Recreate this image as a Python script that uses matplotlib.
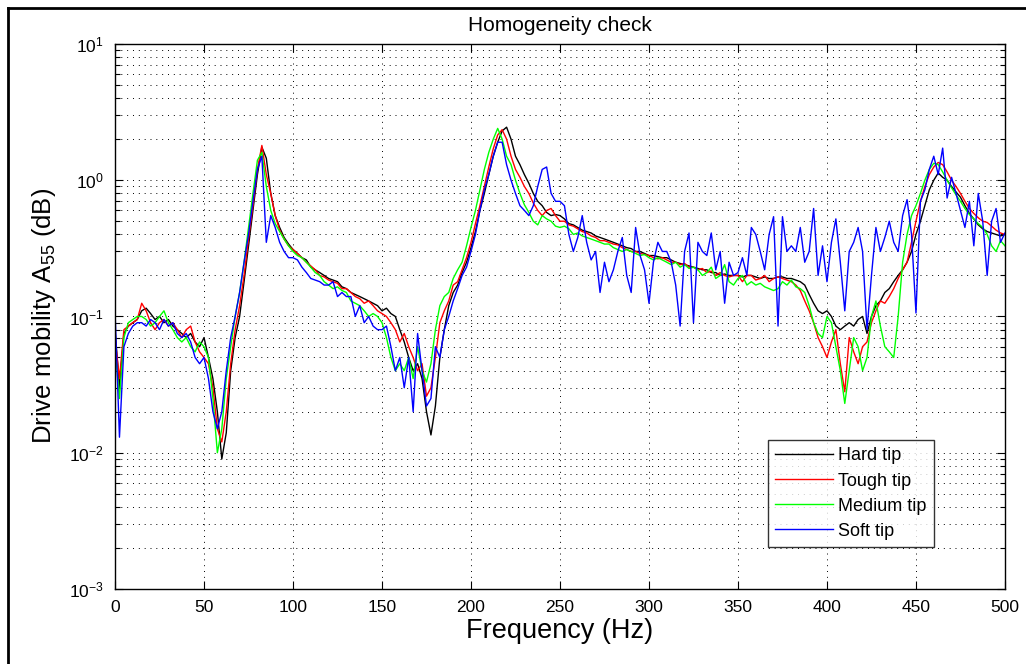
import numpy as np
import matplotlib
matplotlib.use('Agg')
import matplotlib.pyplot as plt
from matplotlib.lines import Line2D
from matplotlib.ticker import LogLocator, NullFormatter, FixedLocator

plt.rcParams['font.family'] = ['Liberation Sans', 'DejaVu Sans']
plt.rcParams['mathtext.default'] = 'regular'

freq = np.arange(0, 500.1, 2.5)

hard = [
    0.08, 0.03, 0.075, 0.085, 0.09, 0.095, 0.11, 0.115, 0.105, 0.095,
    0.1, 0.09, 0.095, 0.085, 0.08, 0.075, 0.07, 0.075, 0.065, 0.06,
    0.07, 0.05, 0.035, 0.02, 0.009, 0.014, 0.04, 0.07, 0.1, 0.18,
    0.33, 0.6, 1.1, 1.75, 1.45, 0.8, 0.55, 0.45, 0.38, 0.34,
    0.31, 0.29, 0.27, 0.26, 0.23, 0.22, 0.21, 0.2, 0.19, 0.185,
    0.18, 0.165, 0.16, 0.15, 0.145, 0.14, 0.135, 0.13, 0.125, 0.12,
    0.11, 0.115, 0.105, 0.1, 0.08, 0.065, 0.05, 0.04, 0.045, 0.035,
    0.02, 0.0135, 0.022, 0.05, 0.08, 0.12, 0.15, 0.17, 0.21, 0.25,
    0.32, 0.42, 0.6, 0.8, 1.1, 1.5, 1.9, 2.3, 2.45, 2.0,
    1.5, 1.3, 1.1, 0.95, 0.8, 0.7, 0.65, 0.58, 0.55, 0.56,
    0.55, 0.52, 0.48, 0.47, 0.45, 0.43, 0.42, 0.41, 0.39, 0.38,
    0.37, 0.36, 0.35, 0.34, 0.33, 0.32, 0.315, 0.3, 0.3, 0.29,
    0.28, 0.28, 0.275, 0.27, 0.27, 0.26, 0.25, 0.245, 0.24, 0.235,
    0.23, 0.225, 0.22, 0.22, 0.21, 0.21, 0.2, 0.205, 0.2, 0.2,
    0.2, 0.195, 0.2, 0.2, 0.195, 0.19, 0.195, 0.19, 0.19, 0.195,
    0.195, 0.19, 0.19, 0.185, 0.18, 0.17, 0.145, 0.125, 0.11, 0.105,
    0.11, 0.1, 0.085, 0.08, 0.085, 0.09, 0.085, 0.095, 0.1, 0.075,
    0.1, 0.12, 0.13, 0.15, 0.16, 0.18, 0.2, 0.22, 0.25, 0.3,
    0.4, 0.5, 0.65, 0.85, 1.0, 1.13, 1.05, 1.0, 0.9, 0.82,
    0.75, 0.65, 0.57, 0.52, 0.47, 0.44, 0.42, 0.41, 0.4, 0.39,
    0.4,
]

tough = [
    0.07, 0.035, 0.08, 0.085, 0.09, 0.095, 0.125, 0.11, 0.09, 0.08,
    0.09, 0.095, 0.085, 0.09, 0.08, 0.07, 0.08, 0.085, 0.065, 0.055,
    0.05, 0.045, 0.03, 0.015, 0.012, 0.02, 0.045, 0.08, 0.12, 0.2,
    0.37, 0.65, 1.2, 1.8, 1.1, 0.8, 0.55, 0.43, 0.37, 0.33,
    0.31, 0.29, 0.27, 0.25, 0.235, 0.22, 0.2, 0.195, 0.185, 0.18,
    0.175, 0.16, 0.16, 0.15, 0.14, 0.135, 0.125, 0.13, 0.12, 0.11,
    0.105, 0.1, 0.09, 0.08, 0.065, 0.075, 0.06, 0.05, 0.04, 0.045,
    0.026, 0.03, 0.05, 0.09, 0.11, 0.13, 0.17, 0.18, 0.22, 0.27,
    0.35, 0.48, 0.65, 0.9, 1.25, 1.7, 2.15, 2.35, 2.0, 1.5,
    1.2, 1.05, 0.9, 0.8, 0.68, 0.6, 0.55, 0.6, 0.62, 0.55,
    0.5, 0.5, 0.47, 0.46, 0.44, 0.42, 0.41, 0.39, 0.38, 0.36,
    0.36, 0.35, 0.34, 0.335, 0.32, 0.31, 0.3, 0.3, 0.29, 0.285,
    0.28, 0.27, 0.265, 0.27, 0.26, 0.25, 0.25, 0.24, 0.245, 0.23,
    0.23, 0.22, 0.225, 0.21, 0.215, 0.2, 0.21, 0.2, 0.195, 0.2,
    0.2, 0.18, 0.2, 0.2, 0.185, 0.19, 0.2, 0.18, 0.19, 0.195,
    0.19, 0.185, 0.18, 0.17, 0.155, 0.13, 0.11, 0.09, 0.07, 0.06,
    0.05, 0.065, 0.08, 0.045, 0.028, 0.07, 0.055, 0.045, 0.06, 0.065,
    0.09, 0.11, 0.13, 0.125, 0.14, 0.16, 0.19, 0.22, 0.25, 0.35,
    0.5, 0.7, 0.9, 1.1, 1.25, 1.35, 1.3, 1.15, 1.0, 0.9,
    0.8, 0.7, 0.62, 0.57, 0.53, 0.5, 0.49, 0.46, 0.43, 0.41,
    0.4,
]

medium = [
    0.06, 0.025, 0.07, 0.09, 0.095, 0.1, 0.1, 0.095, 0.085, 0.09,
    0.1, 0.11, 0.09, 0.08, 0.07, 0.065, 0.07, 0.06, 0.055, 0.065,
    0.06, 0.05, 0.025, 0.01, 0.015, 0.035, 0.06, 0.1, 0.15, 0.25,
    0.45, 0.8, 1.4, 1.6, 0.9, 0.6, 0.48, 0.42, 0.37, 0.33,
    0.3, 0.28, 0.27, 0.25, 0.23, 0.21, 0.2, 0.18, 0.17, 0.16,
    0.165, 0.155, 0.15, 0.13, 0.125, 0.12, 0.11, 0.1, 0.105, 0.1,
    0.09, 0.07, 0.05, 0.04, 0.045, 0.04, 0.05, 0.035, 0.06, 0.04,
    0.033, 0.045, 0.08, 0.12, 0.14, 0.15, 0.19, 0.22, 0.25, 0.33,
    0.45, 0.6, 0.85, 1.2, 1.6, 2.0, 2.4, 2.0, 1.5, 1.3,
    1.0, 0.8, 0.66, 0.58, 0.5, 0.47, 0.55, 0.52, 0.5, 0.46,
    0.45, 0.46, 0.44, 0.4, 0.41, 0.39, 0.38, 0.37, 0.36, 0.35,
    0.34, 0.34, 0.32, 0.31, 0.3, 0.31, 0.3, 0.29, 0.28, 0.285,
    0.27, 0.26, 0.27, 0.26, 0.25, 0.24, 0.25, 0.23, 0.24, 0.225,
    0.23, 0.22, 0.2, 0.21, 0.23, 0.19, 0.2, 0.24, 0.18, 0.17,
    0.19, 0.2, 0.17, 0.18, 0.17, 0.175, 0.165, 0.16, 0.155, 0.16,
    0.18, 0.17, 0.185, 0.165, 0.16, 0.15, 0.12, 0.09, 0.075, 0.07,
    0.1, 0.09, 0.06, 0.04, 0.023, 0.04, 0.07, 0.06, 0.04, 0.05,
    0.1, 0.13, 0.085, 0.06, 0.055, 0.05, 0.1, 0.25, 0.4, 0.55,
    0.65, 0.8, 1.0, 1.2, 1.33, 1.3, 1.15, 1.0, 0.88, 0.78,
    0.7, 0.62, 0.56, 0.52, 0.48, 0.45, 0.4, 0.33, 0.3, 0.36,
    0.33,
]

soft = [
    0.11, 0.013, 0.06, 0.075, 0.085, 0.09, 0.09, 0.085, 0.095, 0.09,
    0.08, 0.095, 0.085, 0.09, 0.075, 0.07, 0.075, 0.065, 0.05, 0.045,
    0.05, 0.035, 0.02, 0.015, 0.02, 0.04, 0.07, 0.1, 0.15, 0.25,
    0.4, 0.7, 1.2, 1.5, 0.35, 0.55, 0.45, 0.35, 0.3, 0.27,
    0.27, 0.26, 0.23, 0.21, 0.19, 0.185, 0.18, 0.17, 0.17, 0.18,
    0.14, 0.15, 0.14, 0.14, 0.1, 0.12, 0.09, 0.1, 0.085, 0.08,
    0.08, 0.085, 0.06, 0.04, 0.05, 0.03, 0.05, 0.02, 0.075, 0.04,
    0.022, 0.025, 0.06, 0.05, 0.08, 0.1, 0.13, 0.16, 0.2, 0.23,
    0.3, 0.4, 0.6, 0.85, 1.1, 1.5, 1.9, 1.9, 1.3, 1.0,
    0.8, 0.65, 0.6, 0.55, 0.65, 0.9, 1.2, 1.25, 0.8, 0.7,
    0.7, 0.65, 0.4, 0.3, 0.38, 0.55, 0.35, 0.26, 0.3, 0.15,
    0.25, 0.18, 0.22, 0.3, 0.38, 0.2, 0.15, 0.45, 0.28, 0.22,
    0.125, 0.25, 0.35, 0.3, 0.3, 0.25, 0.17, 0.085, 0.3, 0.41,
    0.09, 0.35, 0.3, 0.28, 0.41, 0.22, 0.3, 0.125, 0.25, 0.2,
    0.21, 0.27, 0.2, 0.45, 0.4, 0.3, 0.22, 0.4, 0.54, 0.085,
    0.54, 0.3, 0.33, 0.3, 0.45, 0.25, 0.3, 0.62, 0.2, 0.33,
    0.18, 0.35, 0.52, 0.25, 0.11, 0.3, 0.35, 0.45, 0.3, 0.08,
    0.2, 0.45, 0.3, 0.38, 0.5, 0.35, 0.3, 0.55, 0.72, 0.4,
    0.106, 0.7, 0.85, 1.2, 1.5, 1.1, 1.72, 0.74, 1.05, 0.8,
    0.6, 0.45, 0.7, 0.33, 0.8, 0.5, 0.2, 0.5, 0.62, 0.35,
    0.41,
]

labels = ['Hard tip', 'Tough tip', 'Medium tip', 'Soft tip']
colors = ['#000000', '#ff0000', '#00ff00', '#0000ff']

fig = plt.figure(figsize=(10.26, 6.64), dpi=100)
ax = fig.add_axes([0.1121, 0.1130, 0.8674, 0.8208])

for series, lab, col in zip([hard, tough, medium, soft], labels, colors):
    ax.semilogy(freq, series, color=col, lw=1.0, label=lab)

ax.set_xlim(0, 500)
ax.set_ylim(1e-3, 1e1)
ax.set_xticks(np.arange(0, 501, 50))
ax.yaxis.set_major_locator(FixedLocator([1e-3, 1e-2, 1e-1, 1e0, 1e1]))
ax.set_yticklabels([r'$10^{-3}$', r'$10^{-2}$', r'$10^{-1}$', r'$10^{0}$', r'$10^{1}$'])
ax.yaxis.set_minor_locator(LogLocator(base=10, subs=np.arange(2, 10), numticks=20))
ax.yaxis.set_minor_formatter(NullFormatter())

ax.tick_params(which='both', direction='in', top=True, right=True, labelsize=12.5, colors='black')
ax.tick_params(which='major', length=6, width=0.8, pad=8)
ax.tick_params(which='minor', length=3.5, width=0.8)

ax.grid(True, which='major', color='black', lw=0.7, linestyle=(0, (1, 5)))
ax.grid(True, which='minor', axis='y', color='black', lw=0.7, linestyle=(0, (1, 5)))
for s in ax.spines.values():
    s.set_linewidth(1.0)

ax.set_title('Homogeneity check', fontsize=15, pad=9)
ax.set_xlabel('Frequency (Hz)', fontsize=19.5, labelpad=2)
ax.set_ylabel(r'Drive mobility A$_{55}$ (dB)', fontsize=18.5, labelpad=8)

leg = ax.legend(loc='lower right', bbox_to_anchor=(0.920, 0.077), borderaxespad=0,
                fontsize=13, frameon=True, fancybox=False, handlelength=3.2,
                handletextpad=0.3, labelspacing=0.45, borderpad=0.4)
leg.get_frame().set_edgecolor('black')
leg.get_frame().set_linewidth(1.0)

# outer frame lines
fig.add_artist(Line2D([8 / 1026, 8 / 1026], [0, 1 - 8 / 664], color='black', lw=2, transform=fig.transFigure))
fig.add_artist(Line2D([8 / 1026, 1], [1 - 8 / 664, 1 - 8 / 664], color='black', lw=2, transform=fig.transFigure))

fig.savefig('out.png', dpi=100)
